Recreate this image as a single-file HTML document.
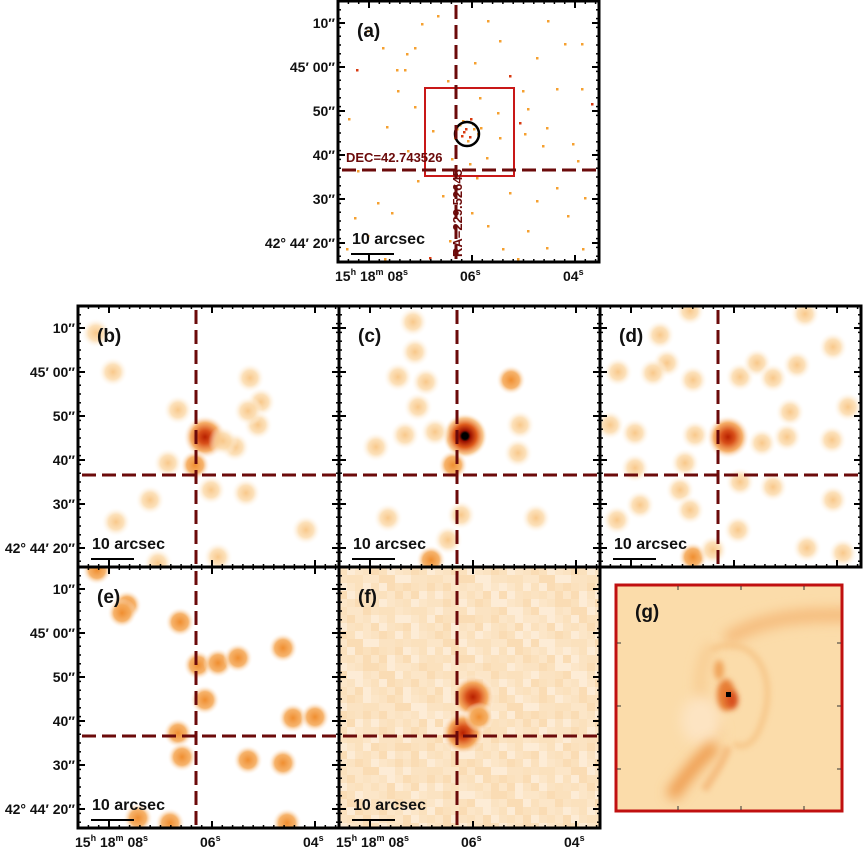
<!DOCTYPE html>
<html><head><meta charset="utf-8"><style>
html,body{margin:0;padding:0;background:#fff;}
svg{display:block;font-family:"Liberation Sans",Arial,sans-serif;}
.lab{font-weight:bold;font-size:14px;fill:#111;}
.pl{font-weight:bold;font-size:19px;fill:#111;}
.sb{font-weight:bold;font-size:16px;fill:#111;}
</style></head><body>
<svg id="fig" width="863" height="848" viewBox="0 0 863 848" xmlns="http://www.w3.org/2000/svg">
<defs>
<radialGradient id="gl"><stop offset="0" stop-color="#f8c584" stop-opacity="0.95"/><stop offset="0.5" stop-color="#fbd6a2" stop-opacity="0.75"/><stop offset="1" stop-color="#fff" stop-opacity="0"/></radialGradient>
<radialGradient id="gm"><stop offset="0" stop-color="#f08e30"/><stop offset="0.55" stop-color="#f5ab5c" stop-opacity="0.9"/><stop offset="1" stop-color="#fff" stop-opacity="0"/></radialGradient>
<radialGradient id="gs"><stop offset="0" stop-color="#b82000"/><stop offset="0.3" stop-color="#d8501a"/><stop offset="0.65" stop-color="#f4a04e" stop-opacity="0.85"/><stop offset="1" stop-color="#fff" stop-opacity="0"/></radialGradient>
<radialGradient id="gp"><stop offset="0" stop-color="#000"/><stop offset="0.14" stop-color="#000"/><stop offset="0.24" stop-color="#9a1000"/><stop offset="0.5" stop-color="#de5a1a"/><stop offset="0.78" stop-color="#f6b46a" stop-opacity="0.75"/><stop offset="1" stop-color="#fff" stop-opacity="0"/></radialGradient>
<filter id="blur3" filterUnits="userSpaceOnUse" x="-100" y="-100" width="500" height="500"><feGaussianBlur stdDeviation="3"/></filter>
<filter id="blur6" filterUnits="userSpaceOnUse" x="-100" y="-100" width="500" height="500"><feGaussianBlur stdDeviation="6"/></filter>
</defs>
<g id="root"></g>
</svg>
<script>
const panelsPos = {a:[338,1],b:[78,306],c:[339,306],d:[600,306],e:[78,567],f:[339,567]};
const crossX = 118, crossY = 169;
const yTickLabels = ["10″","45′ 00″","50″","40″","30″","42° 44′ 20″"];
const yTickVals = [70,60,50,40,30,20];
const xTickVals = [8,6,4];
// point sources: [x, y, level] level 0 light,1 medium,2 strong,3 peak
const blobsB = [[127,131,2],[35,66,0],[172,72,0],[183,96,0],[180,119,0],[100,104,0],[157,141,0],[145,135,0],[117,159,1],[90,157,0],[72,194,0],[133,184,0],[168,187,0],[38,216,0],[228,224,0],[80,257,0],[140,251,0],[18,27,0],[170,105,0]];
const blobsC = [[126,130,3],[74,16,0],[76,46,0],[59,71,0],[87,76,0],[79,101,0],[66,129,0],[96,126,0],[37,141,0],[114,159,1],[172,74,1],[181,119,0],[179,147,0],[49,212,0],[122,209,0],[197,212,0],[109,234,0],[92,254,1]];
const blobsD = [[128,131,2],[18,66,0],[60,29,0],[67,57,0],[53,67,0],[93,74,0],[140,71,0],[157,57,0],[173,72,0],[197,59,0],[233,41,0],[190,106,0],[248,101,0],[10,119,0],[35,127,0],[95,129,0],[162,137,0],[187,131,0],[232,134,0],[85,157,0],[35,162,0],[140,176,0],[173,181,0],[80,184,0],[40,199,0],[90,204,0],[233,194,0],[17,214,0],[138,224,0],[93,251,1],[113,244,0],[207,242,0],[243,247,0],[90,5,0],[205,8,0]];
const blobsE = [[49,38,1],[44,46,1],[102,55,1],[205,81,1],[120,98,1],[140,96,1],[160,91,1],[127,133,1],[100,166,1],[104,190,1],[170,193,1],[205,196,1],[215,151,1],[237,150,1],[60,251,1],[92,256,1],[209,256,1],[19,3,1]];
const blobsF = [[134,130,2],[124,166,2],[140,150,1]];
const dotsA = [[19,69,2],[77,47,1],[84,23,1],[45,47,1],[69,53,1],[59,69,1],[67,69,1],[137,62,1],[172,75,2],[199,57,1],[227,43,1],[244,43,1],[244,88,1],[219,88,1],[185,90,1],[162,40,1],[142,97,1],[190,108,1],[182,122,2],[209,127,1],[254,103,2],[11,118,1],[49,126,1],[77,106,1],[95,130,1],[162,137,1],[187,133,1],[205,145,1],[235,143,1],[149,157,1],[139,177,1],[172,192,1],[199,200,1],[219,187,1],[247,197,1],[40,202,1],[54,212,1],[17,217,1],[134,212,1],[112,240,1],[165,248,1],[180,258,1],[209,247,1],[245,248,1],[92,257,2],[47,258,1],[9,248,1],[114,158,1],[132,163,1],[117,137,1],[125,120,1],[133,118,2],[128,128,2],[124,135,2],[136,128,1],[130,140,1],[140,133,1],[119,128,1],[122,124,1],[135,123,1],[143,127,1],[132,136,2],[126,131,2],[30,30,1],[100,15,1],[150,20,1],[210,20,1],[60,90,1],[110,80,1],[240,160,1],[20,170,1],[70,150,1],[190,230,1],[30,235,1],[150,225,1],[230,215,1],[105,195,1],[160,112,1],[80,180,1]];

const NS="http://www.w3.org/2000/svg";
const root=document.getElementById('root');
function mk(tag,attrs,parent){const e=document.createElementNS(NS,tag);for(const k in attrs)e.setAttribute(k,attrs[k]);(parent||root).appendChild(e);return e;}
function yPix(d){return 22+(70-d)*4.4;}
function xPix(s){return 31+(8-s)*51.5;}
const grads=['url(#gl)','url(#gm)','url(#gs)','url(#gp)'];
const radii=[15,15,22,23];
const dotCol=['#f7b55e','#f5a030','#d83a10'];

function panel(key,blobs){
  const [ox,oy]=panelsPos[key];
  const g=mk('g',{transform:`translate(${ox},${oy})`});
  
  
  const cp=mk('clipPath',{id:'cp'+key},g);
  mk('rect',{x:0,y:0,width:261,height:261},cp);
  const img=mk('g',{'clip-path':`url(#cp${key})`},g);
  if(key==='f'){
    mk('rect',{x:0,y:0,width:261,height:261,fill:'#fbe1bd'},img);
    const shades=['#fbe1bd','#fce6c8','#fadcb4','#fdecd6','#fbe3c2'];
    for(let i=0;i<33;i++)for(let j=0;j<33;j++){
      const v=(i*7+j*13+i*j*5+(i^j))%5;
      mk('rect',{x:i*8,y:j*8,width:8,height:8,fill:shades[v]},img);
    }
  }
  blobs.forEach(b=>{
    const c=mk('circle',{cx:b[0],cy:b[1],r:radii[b[2]],fill:grads[b[2]]},img);
    
    
  });
  if(key==='a'){
    dotsA.forEach(d=>{
      const r=mk('rect',{x:d[0]-1,y:d[1]-1,width:2.5,height:2.5,fill:dotCol[d[2]]},img);
      
      
    });
    const box=mk('rect',{x:87,y:87,width:89,height:88,fill:'none',stroke:'#c81818','stroke-width':2},img);
    
    
    const circ=mk('circle',{cx:129,cy:133,r:12,fill:'none',stroke:'#000','stroke-width':2.5},img);
    
    
  }
  const v=mk('line',{x1:crossX,y1:0,x2:crossX,y2:261,stroke:'#6b0a0a','stroke-width':3,'stroke-dasharray':'14 6','stroke-dashoffset':'-4'},img);
  
  
  const h=mk('line',{x1:0,y1:crossY,x2:261,y2:crossY,stroke:'#6b0a0a','stroke-width':3,'stroke-dasharray':'14 6','stroke-dashoffset':'-4'},img);
  
  
  if(key==='a'){
    const t1=mk('text',{x:8,y:161,'font-size':13,'font-weight':'bold',fill:'#6b0a0a'},g);t1.textContent='DEC=42.743526';
    
    const t2=mk('text',{x:0,y:0,'font-size':13,'font-weight':'bold',fill:'#6b0a0a',transform:'translate(124,256) rotate(-90)'},g);t2.textContent='RA=229.52645';
    
  }
  for(let k=0;k<=30;k++){const y=yPix(70)-22+k*8.8; if(y<0||y>261)continue;
    mk('line',{x1:0,y1:y,x2:3,y2:y,stroke:'#000','stroke-width':1.5},g);
    mk('line',{x1:258,y1:y,x2:261,y2:y,stroke:'#000','stroke-width':1.5},g);}
  for(let k=-5;k<=30;k++){const x=xPix(8)+k*10.3; if(x<0||x>261)continue;
    mk('line',{x1:x,y1:0,x2:x,y2:3,stroke:'#000','stroke-width':1.5},g);
    mk('line',{x1:x,y1:258,x2:x,y2:261,stroke:'#000','stroke-width':1.5},g);}
  yTickVals.forEach(d=>{const y=yPix(d);
    mk('line',{x1:0,y1:y,x2:7,y2:y,stroke:'#000','stroke-width':2},g);
    mk('line',{x1:254,y1:y,x2:261,y2:y,stroke:'#000','stroke-width':2},g);});
  xTickVals.forEach(s=>{const x=xPix(s);
    mk('line',{x1:x,y1:0,x2:x,y2:7,stroke:'#000','stroke-width':2},g);
    mk('line',{x1:x,y1:254,x2:x,y2:261,stroke:'#000','stroke-width':2},g);});
  const fr=mk('rect',{x:0,y:0,width:261,height:261,fill:'none',stroke:'#000','stroke-width':3},g);
  
  const pl=mk('text',{x:19,y:36,class:'pl'},g);pl.textContent='('+key+')';
  
  const sb=mk('text',{x:14,y:243,class:'sb'},g);sb.textContent='10 arcsec';
  
  const sl=mk('line',{x1:13,y1:253,x2:56,y2:253,stroke:'#000','stroke-width':2},g);
  
  return [ox,oy];
}
function yLabels(ox,oy){
  yTickVals.forEach((d,i)=>{const t=mk('text',{x:ox-3,y:oy+yPix(d)+5,'text-anchor':'end',class:'lab'});t.textContent=yTickLabels[i];
    });
}
function xLabels(ox,oy){
  const y=oy+280;
  xTickVals.forEach(s=>{
    const x=ox+xPix(s);
    const t=mk('text',{y:y,class:'lab'});
    
    if(s===8){t.setAttribute('x',ox-3);
      t.innerHTML='15<tspan dy="-6" font-size="9">h</tspan><tspan dy="6"> 18</tspan><tspan dy="-6" font-size="9">m</tspan><tspan dy="6"> 0'+s+'</tspan><tspan dy="-6" font-size="9">s</tspan>';}
    else{t.setAttribute('x',x-12);
      t.innerHTML='0'+s+'<tspan dy="-6" font-size="9">s</tspan>';}
  });
}
panel('a',[]);yLabels(338,1);xLabels(338,1);
panel('b',blobsB);yLabels(78,306);
panel('c',blobsC);
panel('d',blobsD);
panel('e',blobsE);yLabels(78,567);xLabels(78,567);
panel('f',blobsF);xLabels(339,567);

// panel g
const gg=mk('g',{transform:'translate(616,585)'});

mk('rect',{x:0,y:0,width:226,height:226,fill:'#fbdcaa'},gg);
const gcp=mk('clipPath',{id:'cpg'},gg);mk('rect',{x:0,y:0,width:226,height:226},gcp);
const gi=mk('g',{'clip-path':'url(#cpg)'},gg);
mk('path',{d:'M110 55 C150 30 190 30 240 30',stroke:'#f5bb7c','stroke-width':14,fill:'none',filter:'url(#blur6)'},gi);
mk('path',{d:'M95 65 C135 45 165 90 145 140 C138 160 125 165 118 158',stroke:'#f6c384','stroke-width':6,fill:'none',filter:'url(#blur3)',opacity:0.8},gi);
mk('path',{d:'M95 60 C75 95 85 130 105 150',stroke:'#f7c78a','stroke-width':8,fill:'none',filter:'url(#blur6)'},gi);
mk('ellipse',{cx:85,cy:135,rx:20,ry:24,fill:'#fde4c2',filter:'url(#blur6)'},gi);
mk('path',{d:'M55 212 C70 190 85 172 100 160',stroke:'#ee9a4c','stroke-width':13,fill:'none',filter:'url(#blur6)'},gi);
mk('path',{d:'M88 205 C98 190 108 175 112 162',stroke:'#f5bd80','stroke-width':8,fill:'none',filter:'url(#blur3)'},gi);
mk('ellipse',{cx:110,cy:110,rx:9,ry:16,fill:'#e77e34',filter:'url(#blur3)'},gi);
mk('ellipse',{cx:116,cy:115,rx:6,ry:9,fill:'#d8501c',filter:'url(#blur3)'},gi);
mk('ellipse',{cx:103,cy:85,rx:5,ry:10,fill:'#f0a45a',filter:'url(#blur3)'},gi);
mk('rect',{x:110,y:107,width:5,height:5,fill:'#000'},gi);
mk('rect',{x:0,y:0,width:226,height:226,fill:'none',stroke:'#c01010','stroke-width':3},gg);
[62,125,188].forEach(t=>{mk('line',{x1:t,y1:1,x2:t,y2:5,stroke:'#333'},gg);mk('line',{x1:t,y1:221,x2:t,y2:225,stroke:'#333'},gg);
 mk('line',{x1:1,y1:t-4,x2:5,y2:t-4,stroke:'#333'},gg);mk('line',{x1:221,y1:t-4,x2:225,y2:t-4,stroke:'#333'},gg);});
const gl=mk('text',{x:19,y:33,class:'pl'},gg);gl.textContent='(g)';

</script>
</body></html>
